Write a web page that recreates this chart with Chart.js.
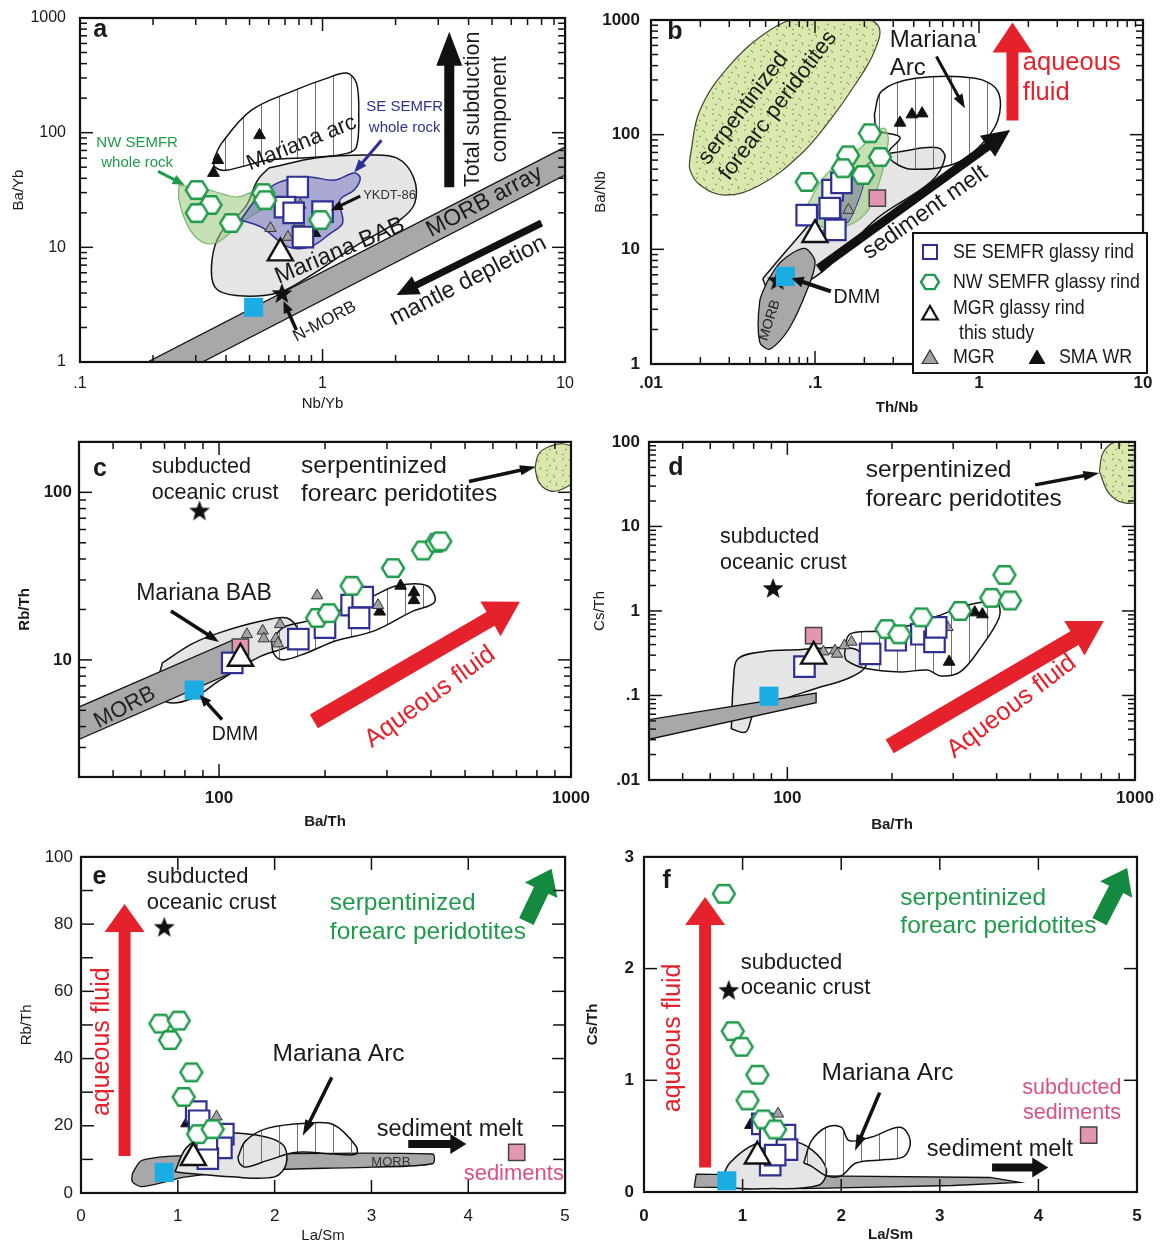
<!DOCTYPE html>
<html>
<head>
<meta charset="utf-8">
<script src="https://cdn.jsdelivr.net/npm/chart.js@4.4.1/dist/chart.umd.min.js"></script>
<style>
  html, body { margin: 0; padding: 0; background: #fff; }
  #page { position: relative; width: 1163px; height: 1245px; overflow: hidden; background: #fff; }
  #page canvas { position: absolute; }
</style>
</head>
<body>
<div id="page"></div>
<script>
const FONT = "'Liberation Sans', Arial, sans-serif";
Chart.defaults.font.family = FONT;
Chart.defaults.color = '#1a1a1a';

// ---------- axis ticks ----------
const A_X_TICKS = [0.1, 1, 10];            const A_X_LABELS = ['.1', '1', '10'];
const A_Y_TICKS = [1, 10, 100, 1000];      const A_Y_LABELS = ['1', '10', '100', '1000'];
const B_X_TICKS = [0.01, 0.1, 1, 10];      const B_X_LABELS = ['.01', '.1', '1', '10'];
const C_X_TICKS = [100, 1000];             const C_X_LABELS = ['100', '1000'];
const C_Y_TICKS = [10, 100];               const C_Y_LABELS = ['10', '100'];
const D_Y_TICKS = [0.01, 0.1, 1, 10, 100]; const D_Y_LABELS = ['.01', '.1', '1', '10', '100'];
const E_X_TICKS = [0, 1, 2, 3, 4, 5];      const E_X_LABELS = ['0', '1', '2', '3', '4', '5'];
const E_Y_TICKS = [0, 20, 40, 60, 80, 100]; const E_Y_LABELS = ['0', '20', '40', '60', '80', '100'];
const E_Y_MINOR = [10, 30, 50, 70, 90];
const F_Y_TICKS = [0, 1, 2, 3];            const F_Y_LABELS = ['0', '1', '2', '3'];

// ---------- panel a : Ba/Yb vs Nb/Yb ----------
const A_SE = [[0.79, 33.6], [0.70, 22.4], [0.83, 12.3], [1.0, 20.5], [0.76, 20]];
const A_NW = [[0.303, 31.6], [0.345, 23.4], [0.303, 19.9], [0.42, 16.3], [0.57, 29.7], [0.58, 25.8], [0.98, 17.3]];
const A_STUDY = [[0.67, 8.9]];
const A_MGR = [[0.81, 23.4], [0.61, 14.7], [0.80, 16.6], [0.72, 12.3]];
const A_SMA = [[0.37, 57.6], [0.355, 44.5], [0.55, 95], [0.93, 13.3]];
const A_DMM = [[0.52, 3.0]];
const A_NMORB = [[0.68, 4.0]];
const A_MORB_ARRAY = [[0.19, 1], [10, 75], [10, 42.7], [0.32, 1], [0.19, 1]];
const A_BAB_FIELD = [[0.60, 49.2], [0.95, 60.3], [1.52, 63.8], [2.02, 60.3], [2.37, 41], [2.4, 24.3], [2.08, 17.3], [1.35, 10.1], [0.87, 5.5], [0.65, 4.0], [0.44, 3.8], [0.36, 4.5], [0.35, 7.7], [0.38, 13.3], [0.48, 22.4], [0.54, 38.6], [0.60, 49.2]];
const A_ARC_FIELD = [[0.355, 57.7], [0.384, 81], [0.509, 157], [0.77, 235], [1.046, 299], [1.26, 331], [1.38, 271], [1.41, 148], [1.38, 75], [1.26, 66], [0.93, 61], [0.60, 57.7], [0.40, 47], [0.36, 50], [0.355, 57.7]];
const A_SE_WR = [[0.46, 17.3], [0.53, 25.8], [0.65, 36.3], [0.87, 41], [1.12, 38.6], [1.35, 44.5], [1.43, 40.3], [1.35, 31.6], [1.18, 25.8], [1.21, 16.3], [1.08, 13.3], [0.89, 10.1], [0.72, 10.1], [0.56, 15.0], [0.46, 17.3]];
const A_NW_WR = [[0.256, 34.9], [0.34, 31.6], [0.45, 27.5], [0.58, 33.6], [0.60, 24.3], [0.48, 17.3], [0.37, 11.1], [0.32, 11.1], [0.28, 15.0], [0.256, 25.8], [0.256, 34.9]];

// ---------- panel b : Ba/Nb vs Th/Nb ----------
const B_SE = [[0.089, 19.9], [0.128, 32.8], [0.123, 22.9], [0.133, 14.8], [0.145, 38]];
const B_NW = [[0.089, 38.7], [0.216, 103], [0.159, 66], [0.249, 63.8], [0.148, 51], [0.196, 44.5]];
const B_STUDY = [[0.10, 13.4]];
const B_MGR = [[0.16, 22], [0.12, 15]];
const B_SMA = [[0.33, 127], [0.39, 150], [0.45, 153]];
const B_SED = [[0.24, 28]];
const B_DMM = [[0.066, 5.8]];
const B_NMORB = [[0.059, 5.4]];
const B_SERP_FIELD = [[0.0173, 63.8], [0.0199, 164], [0.0303, 404], [0.0532, 817], [0.081, 1040], [0.163, 1070], [0.242, 902], [0.232, 547], [0.175, 271], [0.1235, 134], [0.081, 66.4], [0.0462, 36.4], [0.0283, 29.7], [0.0199, 36.4], [0.0173, 49.1], [0.0173, 63.8]];
const B_BAB_FIELD = [[0.048, 5.55], [0.069, 10.2], [0.145, 34], [0.24, 63], [0.35, 72], [0.56, 77], [0.62, 63], [0.51, 39], [0.24, 18.7], [0.111, 6.4], [0.069, 4.5], [0.051, 4.7], [0.048, 5.55]];
const B_MORB_FIELD = [[0.051, 5.2], [0.062, 7.8], [0.086, 10.2], [0.10, 7.8], [0.09, 4.5], [0.069, 2.0], [0.053, 1.35], [0.046, 1.55], [0.046, 3.5], [0.051, 5.2]];
const B_ARC_FIELD = [[0.23, 150], [0.255, 240], [0.41, 310], [0.95, 310], [1.3, 240], [1.3, 132], [0.99, 77], [0.69, 55], [0.39, 50], [0.30, 58], [0.28, 70], [0.33, 95], [0.24, 110], [0.23, 150]];
const B_NW_WR = [[0.090, 24.5], [0.117, 45], [0.19, 77], [0.26, 114], [0.28, 88], [0.24, 34], [0.20, 20], [0.14, 15.3], [0.105, 16.4], [0.090, 24.5]];
const B_SE_WR = [[0.145, 32], [0.178, 48], [0.20, 40], [0.16, 17.3], [0.145, 18.6], [0.145, 32]];

// ---------- panel c : Rb/Th vs Ba/Th ----------
const C_SE = [[109, 9.6], [168, 13.3], [200, 15.6], [238, 21.2], [256, 23.7], [250, 17.8]];
const C_NW = [[190, 17.8], [205, 19], [238, 27.7], [312, 35.3], [380, 45], [415, 50], [425, 51]];
const C_STUDY = [[115, 10.2]];
const C_MGR = [[120, 14.2], [133, 14.9], [134, 13.4], [145, 13.4], [149, 16.3], [147, 12.5], [190, 24.2], [283, 21.2]];
const C_SMA = [[286, 19.4], [328, 27.7], [358, 25.3], [358, 22.7]];
const C_SED = [[115, 11.9]];
const C_DMM = [[85, 6.6]];
const C_CRUST = [[88, 78]];
const C_MORB_FIELD = [[38, 5.0], [110, 13.2], [118, 12], [112, 8.6], [38, 3.2], [38, 5.0]];
const C_BAB_FIELD = [[69, 9.6], [84, 12.5], [101, 14.6], [131, 17], [156, 17.8], [168, 14.9], [164, 12.5], [131, 10.5], [101, 7.6], [84, 5.9], [71, 5.6], [67, 7], [69, 9.6]];
const C_ARC_FIELD = [[141, 13], [152, 15.6], [177, 17], [215, 19.4], [276, 24.2], [320, 27.7], [390, 27.7], [410, 22.2], [353, 19.4], [276, 14.9], [215, 13.0], [177, 11], [152, 10], [143, 10.9], [141, 13]];
const C_SERP_FIELD = [[790, 140], [810, 115], [870, 102], [950, 105], [1050, 125], [1050, 175], [950, 195], [870, 188], [810, 170], [790, 140]];

// ---------- panel d : Cs/Th vs Ba/Th ----------
const D_SE = [[112, 0.22], [173, 0.31], [205, 0.45], [243, 0.53], [265, 0.43], [268, 0.64]];
const D_NW = [[193, 0.61], [210, 0.53], [243, 0.84], [314, 1.0], [386, 1.43], [437, 1.33], [421, 2.67]];
const D_STUDY = [[119, 0.29]];
const D_MGR = [[127, 0.33], [137, 0.34], [146, 0.39], [153, 0.43], [139, 0.31], [289, 0.64]];
const D_SMA = [[292, 0.25], [346, 0.96], [364, 0.91]];
const D_SED = [[119, 0.51]];
const D_DMM = [[88.5, 0.098]];
const D_CRUST = [[91, 1.87]];
const D_MORB_FIELD = [[38, 0.05], [121, 0.107], [121, 0.082], [38, 0.029], [38, 0.05]];
const D_BAB_FIELD = [[69, 0.04], [70, 0.15], [72, 0.27], [85, 0.33], [110, 0.35], [140, 0.37], [160, 0.34], [168, 0.22], [150, 0.16], [120, 0.12], [90, 0.08], [80, 0.06], [76, 0.037], [69, 0.04]];
const D_ARC_FIELD = [[146, 0.31], [151, 0.53], [184, 0.58], [235, 0.70], [271, 0.87], [338, 1.2], [400, 1.25], [407, 0.84], [355, 0.34], [314, 0.19], [277, 0.17], [253, 0.2], [213, 0.19], [167, 0.21], [148, 0.26], [146, 0.31]];
const D_SERP_FIELD = [[790, 45], [810, 75], [880, 100], [1050, 98], [1050, 22], [930, 19], [840, 25], [790, 45]];

// ---------- panel e : Rb/Th vs La/Sm ----------
const E_SE = [[1.19, 24.2], [1.22, 21.5], [1.47, 17.5], [1.45, 13.4], [1.31, 10.2], [1.30, 16]];
const E_NW = [[0.82, 50.4], [1.01, 51.3], [0.92, 45.5], [1.14, 35.9], [1.06, 28.6], [1.21, 17.5], [1.36, 19]];
const E_STUDY = [[1.16, 10.5]];
const E_MGR = [[1.40, 22.7]];
const E_SMA = [[1.09, 20.7]];
const E_SED = [[4.50, 12.1]];
const E_DMM = [[0.86, 6.1]];
const E_CRUST = [[0.86, 79.2]];
const E_MORB_FIELD = [[0.53, 5.8], [0.63, 9.7], [1.09, 11.1], [3.63, 11.6], [3.63, 8.7], [3.0, 7.7], [1.85, 6.8], [1.09, 4.8], [0.63, 1.9], [0.53, 3.4], [0.53, 5.8]];
const E_BAB_FIELD = [[0.97, 6.3], [1.09, 13.5], [1.32, 17.4], [1.77, 17.4], [2.08, 14.5], [2.12, 8.7], [2.0, 4.8], [1.55, 4.8], [1.13, 5.8], [0.97, 6.3]];
const E_ARC_FIELD = [[1.62, 10.6], [1.70, 15.5], [1.93, 19.3], [2.35, 20.8], [2.61, 20.3], [2.84, 14.0], [2.84, 11.6], [2.61, 11.6], [2.23, 12.1], [1.93, 9.7], [1.70, 7.7], [1.64, 8.7], [1.62, 10.6]];

// ---------- panel f : Cs/Th vs La/Sm ----------
const F_SE = [[1.20, 0.61], [1.43, 0.51], [1.28, 0.48], [1.45, 0.38], [1.28, 0.24], [1.33, 0.33]];
const F_NW = [[0.81, 2.67], [0.90, 1.44], [0.99, 1.30], [1.15, 1.05], [1.05, 0.82], [1.21, 0.65], [1.33, 0.56]];
const F_STUDY = [[1.15, 0.32]];
const F_MGR = [[1.36, 0.70]];
const F_SMA = [[1.08, 0.60]];
const F_SED = [[4.51, 0.51]];
const F_DMM = [[0.84, 0.10]];
const F_CRUST = [[0.86, 1.81]];
const F_MORB_FIELD = [[0.53, 0.16], [1.77, 0.145], [3.51, 0.13], [3.81, 0.087], [3.13, 0.058], [1.62, 0.03], [0.51, 0.043], [0.53, 0.16]];
const F_BAB_FIELD = [[0.79, 0.116], [0.87, 0.26], [1.13, 0.43], [1.47, 0.46], [1.70, 0.38], [1.85, 0.2], [1.77, 0.06], [1.25, 0.03], [0.87, 0.043], [0.79, 0.116]];
const F_ARC_FIELD = [[1.62, 0.26], [1.70, 0.46], [1.85, 0.58], [2.0, 0.58], [2.08, 0.46], [2.30, 0.49], [2.60, 0.58], [2.70, 0.46], [2.64, 0.32], [2.45, 0.29], [2.15, 0.26], [2.0, 0.145], [1.85, 0.145], [1.70, 0.23], [1.62, 0.26]];

// ---------- marker images & patterns ----------
function hexMarker(r, color) {
  const s = Math.ceil(2 * r + 4);
  const c = document.createElement('canvas');
  c.width = s; c.height = s;
  const g = c.getContext('2d');
  g.beginPath();
  for (let i = 0; i < 6; i++) {
    const a = Math.PI / 3 * i;
    g.lineTo(s / 2 + r * Math.cos(a), s / 2 + r * Math.sin(a) * 0.92);
  }
  g.closePath();
  g.fillStyle = '#fff'; g.fill();
  g.lineWidth = 2.4; g.strokeStyle = color; g.stroke();
  return c;
}
function starMarker(r) {
  const s = Math.ceil(2 * r + 2);
  const c = document.createElement('canvas');
  c.width = s; c.height = s;
  const g = c.getContext('2d');
  g.beginPath();
  for (let i = 0; i < 10; i++) {
    const a = -Math.PI / 2 + i * Math.PI / 5;
    const rr = i % 2 ? r * 0.42 : r;
    g.lineTo(s / 2 + rr * Math.cos(a), s / 2 + 1 + rr * Math.sin(a));
  }
  g.closePath();
  g.fillStyle = '#111'; g.fill();
  return c;
}
function hatch(step) {
  const c = document.createElement('canvas');
  c.width = step; c.height = 8;
  const g = c.getContext('2d');
  g.strokeStyle = '#707070'; g.lineWidth = 1;
  g.beginPath(); g.moveTo(step / 2 + 0.5, 0); g.lineTo(step / 2 + 0.5, 8); g.stroke();
  return g.createPattern(c, 'repeat');
}
function stipple() {
  const c = document.createElement('canvas');
  c.width = 16; c.height = 16;
  const g = c.getContext('2d');
  g.fillStyle = '#dae8ae'; g.fillRect(0, 0, 16, 16);
  g.strokeStyle = '#6f8f48'; g.lineWidth = 0.9;
  [[2, 3, 4, 1], [9, 2, 11, 5], [5, 9, 7, 8], [12, 10, 13, 13], [2, 13, 4, 14]].forEach(([a, b, c2, d]) => {
    g.beginPath(); g.moveTo(a, b); g.lineTo(c2, d); g.stroke();
  });
  return g.createPattern(c, 'repeat');
}
const HEX = hexMarker(11, '#1f9a4a');
const HEX_SMALL = hexMarker(9, '#1f9a4a');
const STAR = starMarker(11);

const NAVY = '#2e3192';
const RED = '#e5212b';
const GREEN = '#1f9a4a';
const PINK = '#d9508a';

const POINT_STYLE = {
  se:    { pointStyle: 'rect', pointRadius: 14.5, pointBackgroundColor: '#fff', pointBorderColor: NAVY, pointBorderWidth: 2.2, order: 3 },
  nw:    { pointStyle: HEX, pointRadius: 10, order: 2 },
  study: { pointStyle: 'triangle', pointRadius: 14.5, pointBackgroundColor: '#fff', pointBorderColor: '#111', pointBorderWidth: 2.4, order: 1 },
  mgr:   { pointStyle: 'triangle', pointRadius: 6.5, pointBackgroundColor: '#a2a2a2', pointBorderColor: '#333', pointBorderWidth: 1, order: 4 },
  sma:   { pointStyle: 'triangle', pointRadius: 6.8, pointBackgroundColor: '#111', pointBorderColor: '#111', pointBorderWidth: 1, order: 4 },
  dmm:   { pointStyle: 'rect', pointRadius: 13.5, pointBackgroundColor: '#1aade4', pointBorderColor: '#1aade4', pointBorderWidth: 0, order: 5 },
  sed:   { pointStyle: 'rect', pointRadius: 11.5, pointBackgroundColor: '#e396b2', pointBorderColor: '#444', pointBorderWidth: 1.5, order: 5 },
  star:  { pointStyle: STAR, pointRadius: 10, order: 5 },
};

const FIELD_STYLE = {
  morb: { backgroundColor: '#a8a8ab', borderColor: '#111', borderWidth: 1.3, tension: 0 },
  morbSoft: { backgroundColor: '#a8a8ab', borderColor: '#111', borderWidth: 1.3, tension: 0.3 },
  bab:  { backgroundColor: '#e5e5e5', borderColor: '#111', borderWidth: 1.5, tension: 0.35 },
  arc:  { backgroundColor: hatch(18), borderColor: '#111', borderWidth: 1.5, tension: 0.35 },
  serp: { backgroundColor: stipple(), borderColor: '#3c4a30', borderWidth: 1.2, tension: 0.4 },
  seWR: { backgroundColor: 'rgba(96,96,190,0.45)', borderColor: NAVY, borderWidth: 1.5, tension: 0.35 },
  seWRb: { backgroundColor: 'rgba(120,125,150,0.55)', borderColor: NAVY, borderWidth: 1, tension: 0.3 },
  nwWR: { backgroundColor: 'rgba(150,200,120,0.55)', borderColor: 'rgba(110,175,100,0.9)', borderWidth: 1.2, tension: 0.35 },
};

// ---------- panel layouts & annotations ----------
const PANELS = [
  {
    id: 'a', box: [0, 0, 582, 425], plot: [80, 18, 570, 362], wy: 70, hx: 51,
    x: { type: 'logarithmic', min: 0.1, max: 10, ticks: A_X_TICKS, labels: A_X_LABELS, title: 'Nb/Yb', fs: 16, pad: 12 },
    y: { type: 'logarithmic', min: 1, max: 1000, ticks: A_Y_TICKS, labels: A_Y_LABELS, title: 'Ba/Yb', fs: 16, pad: 14 },
    fields: [[A_MORB_ARRAY, 'morb'], [A_BAB_FIELD, 'bab'], [A_ARC_FIELD, 'arc'], [A_NW_WR, 'nwWR'], [A_SE_WR, 'seWR']],
    points: { se: A_SE, nw: A_NW, study: A_STUDY, mgr: A_MGR, sma: A_SMA, dmm: A_DMM, star: A_NMORB },
    notes: [
      { k: 't', x: 0.121, y: 780, s: 'a', size: 25, bold: true },
      { k: 't', x: 0.82, y: 81, s: 'Mariana arc', size: 22, rot: -22 },
      { k: 't', x: 1.18, y: 9.3, s: 'Mariana BAB', size: 23.5, rot: -23 },
      { k: 't', x: 4.65, y: 25, s: 'MORB array', size: 23, rot: -28 },
      { k: 't', x: 3.98, y: 5.1, s: 'mantle depletion', size: 23.5, rot: -27 },
      { k: 'a', x1: 8.0, y1: 16.3, x2: 2.02, y2: 3.84, w: 7, hw: 20, hl: 22, color: '#111' },
      { k: 'a', x1: 3.33, y1: 33.5, x2: 3.33, y2: 760, w: 10, hw: 26, hl: 34, color: '#111' },
      { k: 't', x: 4.19, y: 160, s: 'Total subduction\ncomponent', size: 21.5, rot: -90, lh: 27 },
      { k: 't', x: 0.172, y: 81, s: 'NW SEMFR\nwhole rock', size: 15, color: GREEN, lh: 20 },
      { k: 'a', x1: 0.21, y1: 46, x2: 0.27, y2: 35, w: 3, hw: 10, hl: 12, color: GREEN },
      { k: 't', x: 2.18, y: 167, s: 'SE SEMFR\nwhole rock', size: 15, color: NAVY, lh: 21 },
      { k: 'a', x1: 1.75, y1: 86, x2: 1.35, y2: 45, w: 3, hw: 10, hl: 13, color: NAVY },
      { k: 't', x: 1.47, y: 28.6, s: 'YKDT-86', size: 13, align: 'left', color: '#333' },
      { k: 'a', x1: 1.43, y1: 28, x2: 1.08, y2: 21, w: 3, hw: 10, hl: 12, color: '#111' },
      { k: 't', x: 1.02, y: 2.25, s: 'N-MORB', size: 17, rot: -28 },
      { k: 'a', x1: 0.78, y1: 1.9, x2: 0.69, y2: 3.4, w: 3.5, hw: 10, hl: 12, color: '#111' },
    ],
  },
  {
    id: 'b', box: [582, 0, 581, 425], plot: [651, 20, 1143, 364], wy: 59, hx: 53,
    x: { type: 'logarithmic', min: 0.01, max: 10, ticks: B_X_TICKS, labels: B_X_LABELS, title: 'Th/Nb', fs: 17, bold: true, tbold: true, pad: 9 },
    y: { type: 'logarithmic', min: 1, max: 1000, ticks: A_Y_TICKS, labels: A_Y_LABELS, title: 'Ba/Nb', fs: 17, bold: true, pad: 11 },
    fields: [[B_SERP_FIELD, 'serp'], [B_BAB_FIELD, 'bab'], [B_MORB_FIELD, 'morbSoft'], [B_ARC_FIELD, 'arc'], [B_NW_WR, 'nwWR'], [B_SE_WR, 'seWRb']],
    points: { se: B_SE, nw: B_NW, study: B_STUDY, mgr: B_MGR, sma: B_SMA, sed: B_SED, dmm: B_DMM, star: B_NMORB },
    notes: [
      { k: 't', x: 0.014, y: 785, s: 'b', size: 25, bold: true },
      { k: 't', x: 0.0208, y: 58, s: 'serpentinized\nforearc peridotites', size: 22.5, rot: -53, align: 'left', lh: 26 },
      { k: 't', x: 0.286, y: 667, s: 'Mariana\nArc', size: 24, align: 'left', lh: 28 },
      { k: 'a', x1: 0.55, y1: 480, x2: 0.82, y2: 170, w: 3, hw: 10, hl: 14, color: '#111' },
      { k: 'a', x1: 1.6, y1: 133, x2: 1.6, y2: 950, w: 12, hw: 40, hl: 30, color: RED },
      { k: 't', x: 1.85, y: 420, s: 'aqueous\nfluid', size: 25.5, align: 'left', color: RED, lh: 30 },
      { k: 'a', x1: 0.105, y1: 6.8, x2: 1.55, y2: 110, w: 9, hw: 26, hl: 28, color: '#111' },
      { k: 't', x: 0.47, y: 21, s: 'sediment melt', size: 23.5, rot: -35 },
      { k: 't', x: 0.18, y: 3.8, s: 'DMM', size: 19.5 },
      { k: 'a', x1: 0.125, y1: 4.3, x2: 0.072, y2: 5.6, w: 4, hw: 11, hl: 12, color: '#111' },
      { k: 't', x: 0.053, y: 2.4, s: 'MORB', size: 14, rot: -72, color: '#222' },
    ],
    legend: {
      box: [262, 213, 496, 353], fit: 181, size: 21,
      rows: [
        { sym: 'se', sx: 279, tx: 302, y: 232, text: 'SE SEMFR glassy rind' },
        { sym: 'nw', sx: 279, tx: 302, y: 262, text: 'NW SEMFR glassy rind' },
        { sym: 'study', sx: 279, tx: 302, y: 288, sy: 293, text: 'MGR glassy rind' },
        { sym: null, tx: 308, y: 313, text: 'this study' },
        { sym: 'mgr', sx: 279, tx: 302, y: 337, text: 'MGR' },
        { sym: 'sma', sx: 386, tx: 408, y: 337, text: 'SMA WR' },
      ],
    },
  },
  {
    id: 'c', box: [0, 425, 598, 415], plot: [79, 434, 571, 777], wy: 63, hx: 54,
    x: { type: 'logarithmic', min: 40, max: 1000, ticks: C_X_TICKS, labels: C_X_LABELS, title: 'Ba/Th', fs: 17, bold: true, tbold: true, pad: 11 },
    y: { type: 'logarithmic', min: 2, max: 200, ticks: C_Y_TICKS, labels: C_Y_LABELS, title: 'Rb/Th', fs: 17, bold: true, tbold: true, pad: 7 },
    fields: [[C_BAB_FIELD, 'bab'], [C_MORB_FIELD, 'morb'], [C_ARC_FIELD, 'arc'], [C_SERP_FIELD, 'serp']],
    points: { se: C_SE, nw: C_NW, study: C_STUDY, mgr: C_MGR, sma: C_SMA, sed: C_SED, dmm: C_DMM, star: C_CRUST },
    notes: [
      { k: 't', x: 45.9, y: 138, s: 'c', size: 25, bold: true },
      { k: 't', x: 64.4, y: 142, s: 'subducted\noceanic crust', size: 21.5, align: 'left', lh: 26 },
      { k: 't', x: 171, y: 144, s: 'serpentinized\nforearc peridotites', size: 24.5, align: 'left', lh: 28 },
      { k: 'a', x1: 513, y1: 116, x2: 795, y2: 142, w: 3.5, hw: 10, hl: 16, color: '#111' },
      { k: 't', x: 90.6, y: 24.7, s: 'Mariana BAB', size: 23 },
      { k: 'a', x1: 73, y1: 19.6, x2: 100, y2: 12.8, w: 3.5, hw: 10, hl: 14, color: '#111' },
      { k: 't', x: 111, y: 3.6, s: 'DMM', size: 19.5 },
      { k: 'a', x1: 102, y1: 4.4, x2: 88, y2: 6.2, w: 3.5, hw: 10, hl: 12, color: '#111' },
      { k: 't', x: 54, y: 5.2, s: 'MORB', size: 22, rot: -28, color: '#222' },
      { k: 'a', x1: 186, y1: 4.3, x2: 716, y2: 22.2, w: 16, hw: 40, hl: 34, color: RED },
      { k: 't', x: 398, y: 6.0, s: 'Aqueous fluid', size: 25.5, rot: -36, color: RED },
    ],
  },
  {
    id: 'd', box: [582, 425, 581, 415], plot: [649, 437, 1135, 780], wy: 58, hx: 54,
    x: { type: 'logarithmic', min: 40, max: 1000, ticks: C_X_TICKS, labels: C_X_LABELS, title: 'Ba/Th', fs: 17, bold: true, tbold: true, pad: 8 },
    y: { type: 'logarithmic', min: 0.01, max: 100, ticks: D_Y_TICKS, labels: D_Y_LABELS, title: 'Cs/Th', fs: 17, bold: true, pad: 9 },
    fields: [[D_BAB_FIELD, 'bab'], [D_MORB_FIELD, 'morb'], [D_ARC_FIELD, 'arc'], [D_SERP_FIELD, 'serp']],
    points: { se: D_SE, nw: D_NW, study: D_STUDY, mgr: D_MGR, sma: D_SMA, sed: D_SED, dmm: D_DMM, star: D_CRUST },
    notes: [
      { k: 't', x: 47.8, y: 49, s: 'd', size: 25, bold: true },
      { k: 't', x: 168, y: 46.5, s: 'serpentinized\nforearc peridotites', size: 24.5, align: 'left', lh: 29 },
      { k: 'a', x1: 516, y1: 31, x2: 790, y2: 43, w: 3.5, hw: 10, hl: 16, color: '#111' },
      { k: 't', x: 64, y: 7.5, s: 'subducted\noceanic crust', size: 21.5, align: 'left', lh: 26 },
      { k: 'a', x1: 197, y1: 0.025, x2: 813, y2: 0.76, w: 16, hw: 40, hl: 34, color: RED },
      { k: 't', x: 442, y: 0.074, s: 'Aqueous fluid', size: 25.5, rot: -37, color: RED },
    ],
  },
  {
    id: 'e', box: [0, 840, 582, 405], plot: [81, 850, 572, 1193], wy: 63, hx: 52,
    x: { type: 'linear', min: 0, max: 5, ticks: E_X_TICKS, labels: E_X_LABELS, title: 'La/Sm', fs: 17, minLen: 12, pad: 13 },
    y: { type: 'linear', min: 0, max: 100, ticks: E_Y_TICKS, labels: E_Y_LABELS, minor: E_Y_MINOR, title: 'Rb/Th', fs: 17, minLen: 12, pad: 8 },
    fields: [[E_MORB_FIELD, 'morbSoft'], [E_BAB_FIELD, 'bab'], [E_ARC_FIELD, 'arc']],
    points: { se: E_SE, nw: E_NW, study: E_STUDY, mgr: E_MGR, sma: E_SMA, sed: E_SED, dmm: E_DMM, star: E_CRUST },
    notes: [
      { k: 't', x: 0.19, y: 94, s: 'e', size: 25, bold: true },
      { k: 't', x: 0.68, y: 93.9, s: 'subducted\noceanic crust', size: 22, align: 'left', lh: 26 },
      { k: 'a', x1: 0.45, y1: 11, x2: 0.45, y2: 86, w: 12, hw: 40, hl: 28, color: RED },
      { k: 't', x: 0.22, y: 45, s: 'aqueous fluid', size: 25, rot: -90, color: RED },
      { k: 't', x: 2.57, y: 86.3, s: 'serpentinized\nforearc peridotites', size: 24.5, align: 'left', color: GREEN, lh: 29 },
      { k: 'a', x1: 4.6, y1: 80.8, x2: 4.86, y2: 96.5, w: 16, hw: 36, hl: 24, color: '#138a3f' },
      { k: 't', x: 2.66, y: 41.4, s: 'Mariana Arc', size: 24.5 },
      { k: 'a', x1: 2.59, y1: 34.4, x2: 2.29, y2: 17, w: 3.5, hw: 10, hl: 16, color: '#111' },
      { k: 't', x: 3.81, y: 19, s: 'sediment melt', size: 23.5 },
      { k: 'a', x1: 3.38, y1: 14.6, x2: 3.98, y2: 14.6, w: 8, hw: 20, hl: 16, color: '#111' },
      { k: 't', x: 4.47, y: 5.8, s: 'sediments', size: 22, color: PINK },
      { k: 't', x: 3.2, y: 9, s: 'MORB', size: 13, color: '#333' },
    ],
  },
  {
    id: 'f', box: [582, 840, 581, 405], plot: [644, 848, 1137, 1192], wy: 60, hx: 52,
    x: { type: 'linear', min: 0, max: 5, ticks: E_X_TICKS, labels: E_X_LABELS, title: 'La/Sm', fs: 17, bold: true, tbold: true, minLen: 12, pad: 14 },
    y: { type: 'linear', min: 0, max: 3, ticks: F_Y_TICKS, labels: F_Y_LABELS, title: 'Cs/Th', fs: 17, bold: true, tbold: true, minLen: 12, pad: 10 },
    fields: [[F_MORB_FIELD, 'morb'], [F_BAB_FIELD, 'bab'], [F_ARC_FIELD, 'arc']],
    points: { se: F_SE, nw: F_NW, study: F_STUDY, mgr: F_MGR, sma: F_SMA, sed: F_SED, dmm: F_DMM, star: F_CRUST },
    notes: [
      { k: 't', x: 0.23, y: 2.78, s: 'f', size: 25, bold: true },
      { k: 'a', x1: 0.62, y1: 0.22, x2: 0.62, y2: 2.64, w: 12, hw: 40, hl: 28, color: RED },
      { k: 't', x: 0.30, y: 1.38, s: 'aqueous fluid', size: 25, rot: -90, color: RED },
      { k: 't', x: 0.98, y: 2.05, s: 'subducted\noceanic crust', size: 22, align: 'left', lh: 25 },
      { k: 't', x: 2.6, y: 2.63, s: 'serpentinized\nforearc peridotites', size: 24.5, align: 'left', color: GREEN, lh: 28 },
      { k: 'a', x1: 4.62, y1: 2.42, x2: 4.9, y2: 2.9, w: 16, hw: 36, hl: 24, color: '#138a3f' },
      { k: 't', x: 2.47, y: 1.06, s: 'Mariana Arc', size: 24.5 },
      { k: 'a', x1: 2.39, y1: 0.89, x2: 2.14, y2: 0.37, w: 3.5, hw: 10, hl: 16, color: '#111' },
      { k: 't', x: 4.34, y: 0.93, s: 'subducted\nsediments', size: 21.5, color: PINK, lh: 25 },
      { k: 't', x: 3.61, y: 0.38, s: 'sediment melt', size: 23.5 },
      { k: 'a', x1: 3.53, y1: 0.22, x2: 4.1, y2: 0.22, w: 8, hw: 20, hl: 16, color: '#111' },
    ],
  },
];

// ---------- helpers ----------
const pts = (arr) => arr.map(([x, y]) => ({ x, y }));

function allTicks(s) {
  if (s.type === 'logarithmic') {
    const out = s.ticks.slice();
    for (let d = Math.floor(Math.log10(s.min)); d <= Math.ceil(Math.log10(s.max)); d++) {
      for (let k = 2; k <= 9; k++) {
        const v = k * Math.pow(10, d);
        if (v > s.min * 1.0001 && v < s.max * 0.9999) out.push(v);
      }
    }
    return out.sort((a, b) => a - b);
  }
  return s.ticks.concat(s.minor || []).sort((a, b) => a - b);
}

function axis(s, size, horiz) {
  return {
    type: s.type, min: s.min, max: s.max, position: horiz ? 'bottom' : 'left',
    border: { display: false },
    grid: { display: false, drawTicks: false },
    ticks: {
      autoSkip: false, maxRotation: 0, minRotation: 0, padding: s.pad || 7, color: '#1a1a1a',
      font: { size: s.fs || 16, weight: s.bold ? 'bold' : 'normal' },
      callback: (v) => { const i = s.ticks.indexOf(v); return i < 0 ? '' : s.labels[i]; },
    },
    title: { display: true, text: s.title, color: '#1a1a1a', padding: 0, font: { size: 15, weight: s.tbold ? 'bold' : 'normal' } },
    afterBuildTicks: (sc) => { sc.ticks = allTicks(s).map((v) => ({ value: v })); },
    afterFit: (sc) => {
      if (horiz) sc.height = size; else sc.width = size;
      sc.paddingLeft = 0; sc.paddingRight = 0; sc.paddingTop = 0; sc.paddingBottom = 0;
    },
  };
}

function fatArrow(ctx, x1, y1, x2, y2, w, hw, hl, color) {
  const dx = x2 - x1, dy = y2 - y1, len = Math.hypot(dx, dy);
  const ux = dx / len, uy = dy / len, nx = -uy, ny = ux;
  const bx = x2 - ux * hl, by = y2 - uy * hl;
  ctx.beginPath();
  ctx.moveTo(x1 + nx * w / 2, y1 + ny * w / 2);
  ctx.lineTo(bx + nx * w / 2, by + ny * w / 2);
  ctx.lineTo(bx + nx * hw / 2, by + ny * hw / 2);
  ctx.lineTo(x2, y2);
  ctx.lineTo(bx - nx * hw / 2, by - ny * hw / 2);
  ctx.lineTo(bx - nx * w / 2, by - ny * w / 2);
  ctx.lineTo(x1 - nx * w / 2, y1 - ny * w / 2);
  ctx.closePath();
  ctx.fillStyle = color;
  ctx.fill();
}

function triangle(ctx, x, y, r, fill, stroke, lw) {
  ctx.beginPath();
  for (let i = 0; i < 3; i++) {
    const a = -Math.PI / 2 + i * 2 * Math.PI / 3;
    ctx.lineTo(x + r * Math.cos(a), y + r * Math.sin(a));
  }
  ctx.closePath();
  ctx.fillStyle = fill; ctx.fill();
  ctx.lineWidth = lw; ctx.strokeStyle = stroke; ctx.stroke();
}

function legendSymbol(ctx, sym, x, y) {
  if (sym === 'se') { ctx.lineWidth = 2; ctx.strokeStyle = NAVY; ctx.strokeRect(x - 7, y - 7, 14, 14); }
  if (sym === 'nw') ctx.drawImage(HEX_SMALL, x - HEX_SMALL.width / 2, y - HEX_SMALL.height / 2);
  if (sym === 'study') triangle(ctx, x, y + 2, 9, '#fff', '#111', 2.2);
  if (sym === 'mgr') triangle(ctx, x, y + 2, 9, '#a2a2a2', '#333', 1.2);
  if (sym === 'sma') triangle(ctx, x, y + 2, 9, '#111', '#111', 1);
}

function decor(p) {
  return {
    id: 'decor_' + p.id,
    afterDatasetsDraw(chart) {
      const ctx = chart.ctx, xs = chart.scales.x, ys = chart.scales.y;
      const X = (v) => xs.getPixelForValue(v), Y = (v) => ys.getPixelForValue(v);
      p.notes.forEach((n) => {
        if (n.k === 'a') {
          fatArrow(ctx, X(n.x1), Y(n.y1), X(n.x2), Y(n.y2), n.w, n.hw, n.hl, n.color);
          return;
        }
        const lines = n.s.split('\n');
        const lh = n.lh || n.size * 1.2;
        ctx.save();
        ctx.translate(X(n.x), Y(n.y));
        ctx.rotate((n.rot || 0) * Math.PI / 180);
        ctx.font = (n.bold ? 'bold ' : '') + n.size + 'px ' + FONT;
        ctx.fillStyle = n.color || '#1a1a1a';
        ctx.textAlign = n.align || 'center';
        ctx.textBaseline = 'middle';
        lines.forEach((ln, i) => ctx.fillText(ln, 0, i * lh));
        ctx.restore();
      });
    },
    afterDraw(chart) {
      const ctx = chart.ctx, xs = chart.scales.x, ys = chart.scales.y;
      const { left: L, right: R, top: T, bottom: B } = chart.chartArea;
      ctx.save();
      ctx.strokeStyle = '#111';
      ctx.lineWidth = 1.5;
      const seg = (a, b, c, d) => { ctx.beginPath(); ctx.moveTo(a, b); ctx.lineTo(c, d); ctx.stroke(); };
      xs.ticks.forEach((t) => {
        const px = xs.getPixelForValue(t.value);
        if (px <= L + 1 || px >= R - 1) return;
        const len = p.x.ticks.includes(t.value) ? 13 : (p.x.minLen || 7);
        seg(px, B, px, B - len); seg(px, T, px, T + len);
      });
      ys.ticks.forEach((t) => {
        const py = ys.getPixelForValue(t.value);
        if (py <= T + 1 || py >= B - 1) return;
        const len = p.y.ticks.includes(t.value) ? 13 : (p.y.minLen || 7);
        seg(L, py, L + len, py); seg(R, py, R - len, py);
      });
      ctx.lineWidth = 2.2;
      ctx.strokeRect(L, T, R - L, B - T);
      if (p.legend) {
        const lg = p.legend, [bl, bt, br, bb] = lg.box;
        ctx.fillStyle = '#fff';
        ctx.fillRect(L + bl, T + bt, br - bl, bb - bt);
        ctx.lineWidth = 2; ctx.strokeStyle = '#111';
        ctx.strokeRect(L + bl, T + bt, br - bl, bb - bt);
        ctx.font = lg.size + 'px ' + FONT;
        const sx = lg.fit / ctx.measureText(lg.rows[0].text).width;
        lg.rows.forEach((r) => {
          if (r.sym) legendSymbol(ctx, r.sym, L + r.sx, T + (r.sy || r.y));
          ctx.save();
          ctx.translate(L + r.tx, T + r.y);
          ctx.scale(sx, 1);
          ctx.fillStyle = '#1a1a1a'; ctx.textAlign = 'left'; ctx.textBaseline = 'middle';
          ctx.fillText(r.text, 0, 0);
          ctx.restore();
        });
      }
      ctx.restore();
    },
  };
}

function buildPanel(p) {
  const page = document.getElementById('page');
  const cv = document.createElement('canvas');
  const [cx, cy, cw, ch] = p.box;
  const [L, T, R, B] = p.plot;
  cv.width = cw; cv.height = ch;
  Object.assign(cv.style, { left: cx + 'px', top: cy + 'px', width: cw + 'px', height: ch + 'px' });
  page.appendChild(cv);

  const datasets = [];
  p.fields.forEach(([data, kind], i) => {
    datasets.push({ type: 'line', data: pts(data), ...FIELD_STYLE[kind], fill: 'shape', pointRadius: 0, order: 60 - i });
  });
  Object.entries(p.points).forEach(([kind, data]) => {
    datasets.push({ type: 'scatter', data: pts(data), showLine: false, ...POINT_STYLE[kind] });
  });

  new Chart(cv, {
    type: 'scatter',
    data: { datasets },
    options: {
      responsive: false, animation: false, devicePixelRatio: 1, events: [],
      layout: { padding: { left: L - cx - p.wy, top: T - cy, right: cx + cw - R, bottom: cy + ch - B - p.hx } },
      plugins: { legend: { display: false }, tooltip: { enabled: false } },
      scales: { x: axis(p.x, p.hx, true), y: axis(p.y, p.wy, false) },
    },
    plugins: [decor(p)],
  });
}

PANELS.forEach(buildPanel);
</script>
</body>
</html>
